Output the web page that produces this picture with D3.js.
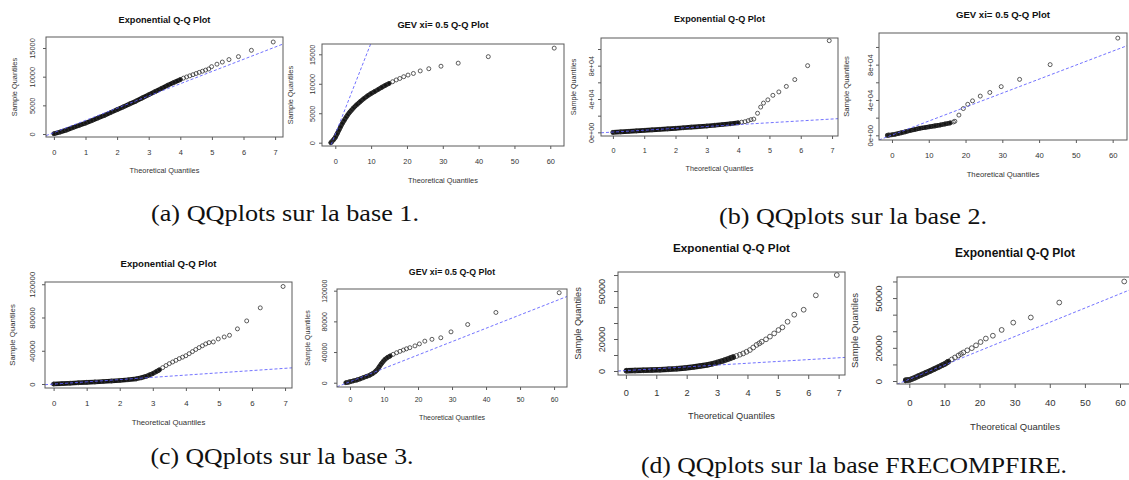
<!DOCTYPE html>
<html><head><meta charset="utf-8">
<script src="https://cdn.jsdelivr.net/npm/d3@7"></script>
<style>body{margin:0;background:#fff}svg{display:block}</style>
</head><body>
<svg id="c" width="1129" height="480"></svg>
<script>
// ---------------- data ----------------
const expTicks = [0,1,2,3,4,5,6,7];
const gevTicks = [0,10,20,30,40,50,60];
const yTicksA = [0,5000,10000,15000];
const yLabelsA = ["0","5000","10000","15000"];
const yTicksB = [0,20000,40000,60000,80000,100000];
const yLabelsB = ["0e+00","","4e+04","","8e+04",""];
const yTicksC = [0,40000,80000,120000];
const yLabelsC = ["0","40000","80000","120000"];
const yTicksD = [0,10000,20000,30000,40000,50000,60000];
const yLabelsD = ["0","","20000","","","50000",""];

const plotTitles = ["Exponential Q-Q Plot","GEV xi= 0.5 Q-Q Plot","Exponential Q-Q Plot","GEV xi= 0.5 Q-Q Plot",
                    "Exponential Q-Q Plot","GEV xi= 0.5 Q-Q Plot","Exponential Q-Q Plot","Exponential Q-Q Plot"];
const xAxisTitle = "Theoretical Quantiles";
const yAxisTitle = "Sample Quantiles";
const captions = ["(a) QQplots sur la base 1.","(b) QQplots sur la base 2.","(c) QQplots sur la base 3.","(d) QQplots sur la base FRECOMPFIRE."];

// base 1
const aExpX = [0,0.2,0.4,0.6,0.8,1.0,1.2,1.4,1.6,1.8,2.0,2.2,2.4,2.6,2.8,3.0,3.2,3.4,3.6,3.8,4.0,4.1,4.2,4.3,4.4,4.5,4.6,4.7,4.8,4.9,4.99,5.16,5.33,5.54,5.84,6.25,6.94];
const aExpY = [50,350,700,1100,1500,1900,2350,2800,3250,3750,4250,4750,5250,5750,6300,6850,7400,7950,8500,9000,9500,9750,9950,10150,10350,10550,10750,10950,11150,11350,11750,12180,12550,12980,13500,14600,16050];
const aGevX = [-1.24,-1.0,-0.5,0,0.5,1,1.5,2,2.5,3,3.5,4,4.5,5,6,7,8,9,10,11,12,13,14,15,16,17,18,19.1,20.3,21.8,23.7,26.1,29.5,34.3,42.7,61.1];
const aGevY = [0,150,500,900,1500,2100,2700,3300,3800,4300,4750,5150,5500,5850,6450,7000,7500,7950,8350,8700,9050,9400,9750,10050,10350,10650,10900,11200,11480,11750,12180,12550,12980,13500,14600,16050];
// base 2
const bExpX = [0,0.25,0.5,0.75,1,1.25,1.5,1.75,2,2.25,2.5,2.75,3,3.25,3.5,3.75,4.0,4.11,4.22,4.32,4.41,4.5,4.62,4.72,4.81,4.95,5.11,5.30,5.54,5.81,6.22,6.91];
const bExpY = [0,550,1100,1700,2400,3000,3600,4200,4800,5500,6200,6900,7600,8500,9400,10300,11400,12200,12800,14000,15200,15900,22900,30300,35100,39000,44400,48500,55100,63300,80000,110000];
const bGevX = [-1.24,-0.9,0,0.8,1.7,2.6,3.7,4.9,6.2,7.6,9,10.3,11.7,13.1,14.4,15.8,16.7,17.1,18.2,19.4,20.6,21.9,24.0,26.6,29.7,34.7,43,61.4];
const bGevY = [0,200,600,1100,2000,3000,4100,5300,6600,7900,8800,9800,10700,11700,12800,14000,15100,15900,22900,30300,35100,39000,44400,48500,55100,63300,80000,110000];
// base 3
const cExpX = [0,0.25,0.5,0.75,1,1.25,1.5,1.75,2,2.25,2.5,2.65,2.8,2.9,3.0,3.1,3.2,3.3,3.4,3.5,3.6,3.7,3.8,3.9,4.0,4.1,4.2,4.3,4.4,4.5,4.6,4.7,4.83,4.98,5.16,5.32,5.56,5.84,6.25,6.94];
const cExpY = [0,500,1000,1500,2000,2500,3000,3600,4300,5100,6200,7500,9300,10900,12600,14800,17000,19700,22200,24500,26500,28500,30500,32300,34000,36500,39000,41500,43800,46000,48200,49800,50600,54200,56600,58600,66300,75900,91600,117300];
const cGevX = [-1.2,-0.5,0,1,2,3,3.9,4.9,5.9,6.7,7.4,7.9,8.3,8.8,9.3,9.8,10.3,11,11.8,12.7,13.7,14.7,15.7,16.6,17.6,19.1,20.4,22.0,24.1,26.7,29.7,34.6,42.9,61.5];
const cGevY = [0,700,1300,2400,3500,5000,6500,8200,10000,12000,14300,16500,18700,22000,25200,28000,30400,32800,34800,37000,39100,40900,42600,44200,45700,48000,50600,54200,56600,58600,66300,75900,91600,117300];
// FRECOMPFIRE
const dExpX = [0.02,0.3,0.57,0.85,1.12,1.4,1.67,1.95,2.22,2.44,2.66,2.83,2.99,3.1,3.21,3.32,3.42,3.53,3.64,3.75,3.86,3.97,4.08,4.19,4.30,4.39,4.47,4.61,4.74,4.88,5.02,5.15,5.32,5.54,5.85,6.25,6.94];
const dExpY = [200,300,400,600,800,1100,1450,1950,2500,3100,3750,4450,5200,5850,6500,7200,7900,8650,9400,10200,11000,12000,13100,14700,16300,17300,18300,19800,21500,23500,25600,27300,30800,35200,38300,47300,60000];
const dGevX = [-1.0,-0.4,0.2,0.9,1.6,2.5,3.5,4.7,5.9,7.1,8.3,9.2,10.2,11.1,12.1,13.0,14.0,14.7,15.4,16.5,17.8,19.0,20.3,21.8,23.8,26.3,29.6,34.6,42.7,61.2];
const dGevY = [400,600,800,1400,2000,2900,3800,4900,6000,7200,8400,9400,10400,11700,13000,14200,15400,16300,17200,18500,19800,21500,23500,25600,27300,30800,35200,38300,47300,60000];

// reference (qqline) intercepts and slopes
const refIntercept = [250,1460,300,300,-100,1300,280,1060];
const refSlope = [2130,1550,2240,1582,2710,1742,1140,858];

// ---------------- layout ----------------
const layout = [
 {x0:46,x1:283,y0:37,y1:137,xd:[-0.25,7.25],yd:[-520,16920],T:9.2,L:7.4,xtl:15,xtt:33,ytl:14,ytt:32,tt:17,dense:4.0,r:2,tk:3},
 {x0:322,x1:564,y0:44,y1:146,xd:[-3.71,63.83],yd:[-560,16750],T:9.3,L:7.4,xtl:15,xtt:34,ytl:10,ytt:32,tt:19,dense:15,r:2,tk:3},
 {x0:601,x1:838,y0:38,y1:136,xd:[-0.38,7.19],yd:[-4400,113200],T:9.1,L:7.2,xtl:14,xtt:32,ytl:10,ytt:28,tt:19,dense:4.0,r:2,tk:3},
 {x0:879,x1:1127,y0:33,y1:140,xd:[-3.53,63.9],yd:[-5300,115800],T:9.6,L:7.7,xtl:15,xtt:34,ytl:9,ytt:33,tt:18,dense:16,r:2,tk:3},
 {x0:45,x1:292,y0:282,y1:388,xd:[-0.26,7.21],yd:[-4800,122700],T:9.6,L:7.8,xtl:15,xtt:34,ytl:13,ytt:33,tt:18,dense:3.2,r:2,tk:3},
 {x0:337,x1:567,y0:289,y1:387,xd:[-3.82,63.8],yd:[-5600,122200],T:8.8,L:7.0,xtl:13,xtt:31,ytl:12,ytt:29,tt:17,dense:12,r:2,tk:3},
 {x0:618,x1:845,y0:272,y1:375,xd:[-0.26,7.21],yd:[-2500,61900],T:11.7,L:9.2,xtl:18,xtt:41,ytl:16,ytt:40,tt:24,dense:3.6,r:2.4,tk:4},
 {x0:897,x1:1133,y0:277,y1:384,xd:[-3.5,63.7],yd:[-1800,62700],T:12,L:9.5,xtl:19,xtt:43,ytl:18,ytt:42,tt:24,dense:12,r:2.4,tk:4}
];
const captionPos = [{x:285,y:213},{x:853,y:216},{x:282,y:456},{x:854,y:465}];
const captionLen = [268,268,263,426];

const series = [[aExpX,aExpY],[aGevX,aGevY],[bExpX,bExpY],[bGevX,bGevY],[cExpX,cExpY],[cGevX,cGevY],[dExpX,dExpY],[dGevX,dGevY]];
const xTickSets = [expTicks,gevTicks,expTicks,gevTicks,expTicks,gevTicks,expTicks,gevTicks];
const yTickSets = [[yTicksA,yLabelsA],[yTicksA,yLabelsA],[yTicksB,yLabelsB],[yTicksB,yLabelsB],[yTicksC,yLabelsC],[yTicksC,yLabelsC],[yTicksD,yLabelsD],[yTicksD,yLabelsD]];

const svg = d3.select("#c");
const FONT = "'Liberation Sans', Arial, sans-serif";

layout.forEach((c, i) => {
  const g = svg.append("g");
  const x = d3.scaleLinear().domain(c.xd).range([c.x0, c.x1]);
  const y = d3.scaleLinear().domain(c.yd).range([c.y1, c.y0]);
  const [xs, ys] = series[i];
  const pts = xs.map((v, k) => ({x: v, y: ys[k]}));

  const clipId = "clip" + i;
  g.append("clipPath").attr("id", clipId).append("rect")
    .attr("x", c.x0).attr("y", c.y0).attr("width", c.x1 - c.x0).attr("height", c.y1 - c.y0);
  const inner = g.append("g").attr("clip-path", `url(#${clipId})`);

  // dense band
  const dense = pts.filter(p => p.x <= c.dense);
  inner.append("path").datum(dense)
    .attr("d", d3.line().x(p => x(p.x)).y(p => y(p.y)))
    .attr("fill", "none").attr("stroke", "#141414").attr("stroke-width", c.r * 2.3)
    .attr("stroke-linecap", "round").attr("stroke-linejoin", "round");

  // points
  inner.selectAll("circle").data(pts).enter().append("circle")
    .attr("cx", p => x(p.x)).attr("cy", p => y(p.y)).attr("r", c.r)
    .attr("fill", "none").attr("stroke", "#333").attr("stroke-width", 0.8);

  // reference line
  const lx = c.xd;
  inner.append("line")
    .attr("x1", x(lx[0])).attr("y1", y(refIntercept[i] + refSlope[i] * lx[0]))
    .attr("x2", x(lx[1])).attr("y2", y(refIntercept[i] + refSlope[i] * lx[1]))
    .attr("stroke", "#5b5bff").attr("stroke-width", 1).attr("stroke-dasharray", "3,2").attr("opacity", 0.85);

  // box
  g.append("rect").attr("x", c.x0).attr("y", c.y0).attr("width", c.x1 - c.x0).attr("height", c.y1 - c.y0)
    .attr("fill", "none").attr("stroke", "#5a5a5a").attr("stroke-width", 1);

  // x axis
  const xa = g.append("g").attr("transform", `translate(0,${c.y1})`)
    .call(d3.axisBottom(x).tickValues(xTickSets[i]).tickSize(c.tk).tickFormat(d3.format("d")));
  xa.select(".domain").remove();
  xa.selectAll("line").attr("stroke", "#5a5a5a");
  xa.selectAll("text").attr("y", c.xtl).attr("dy", "0.35em").attr("font-size", c.L)
    .attr("font-family", FONT).attr("fill", "#333");

  // y axis
  const [yt, yl] = yTickSets[i];
  const ya = g.append("g").attr("transform", `translate(${c.x0},0)`)
    .call(d3.axisLeft(y).tickValues(yt).tickSize(c.tk).tickFormat((d, k) => yl[k]));
  ya.select(".domain").remove();
  ya.selectAll("line").attr("stroke", "#5a5a5a");
  ya.selectAll("text").attr("x", null).attr("dy", "0.35em")
    .attr("transform", `translate(${-c.ytl},0) rotate(-90)`)
    .attr("text-anchor", "middle").attr("font-size", c.L)
    .attr("font-family", FONT).attr("fill", "#333");

  // titles
  const cx = (c.x0 + c.x1) / 2, cy = (c.y0 + c.y1) / 2;
  g.append("text").attr("x", cx).attr("y", c.y0 - c.tt).attr("dy", "0.35em")
    .attr("text-anchor", "middle").attr("font-weight", "bold").attr("font-size", c.T)
    .attr("font-family", FONT).attr("fill", "#111").text(plotTitles[i]);
  g.append("text").attr("x", cx).attr("y", c.y1 + c.xtt).attr("dy", "0.35em")
    .attr("text-anchor", "middle").attr("font-size", c.L)
    .attr("font-family", FONT).attr("fill", "#333").text(xAxisTitle);
  g.append("text").attr("transform", `translate(${c.x0 - c.ytt},${cy}) rotate(-90)`).attr("dy", "0.35em")
    .attr("text-anchor", "middle").attr("font-size", c.L)
    .attr("font-family", FONT).attr("fill", "#333").text(yAxisTitle);
});

captions.forEach((t, i) => {
  svg.append("text").attr("x", captionPos[i].x).attr("y", captionPos[i].y).attr("dy", "0.35em")
    .attr("text-anchor", "middle").attr("font-family", "'Liberation Serif', 'Times New Roman', serif")
    .attr("font-size", 23).attr("fill", "#111")
    .attr("textLength", captionLen[i]).attr("lengthAdjust", "spacingAndGlyphs").text(t);
});
</script>
</body></html>
